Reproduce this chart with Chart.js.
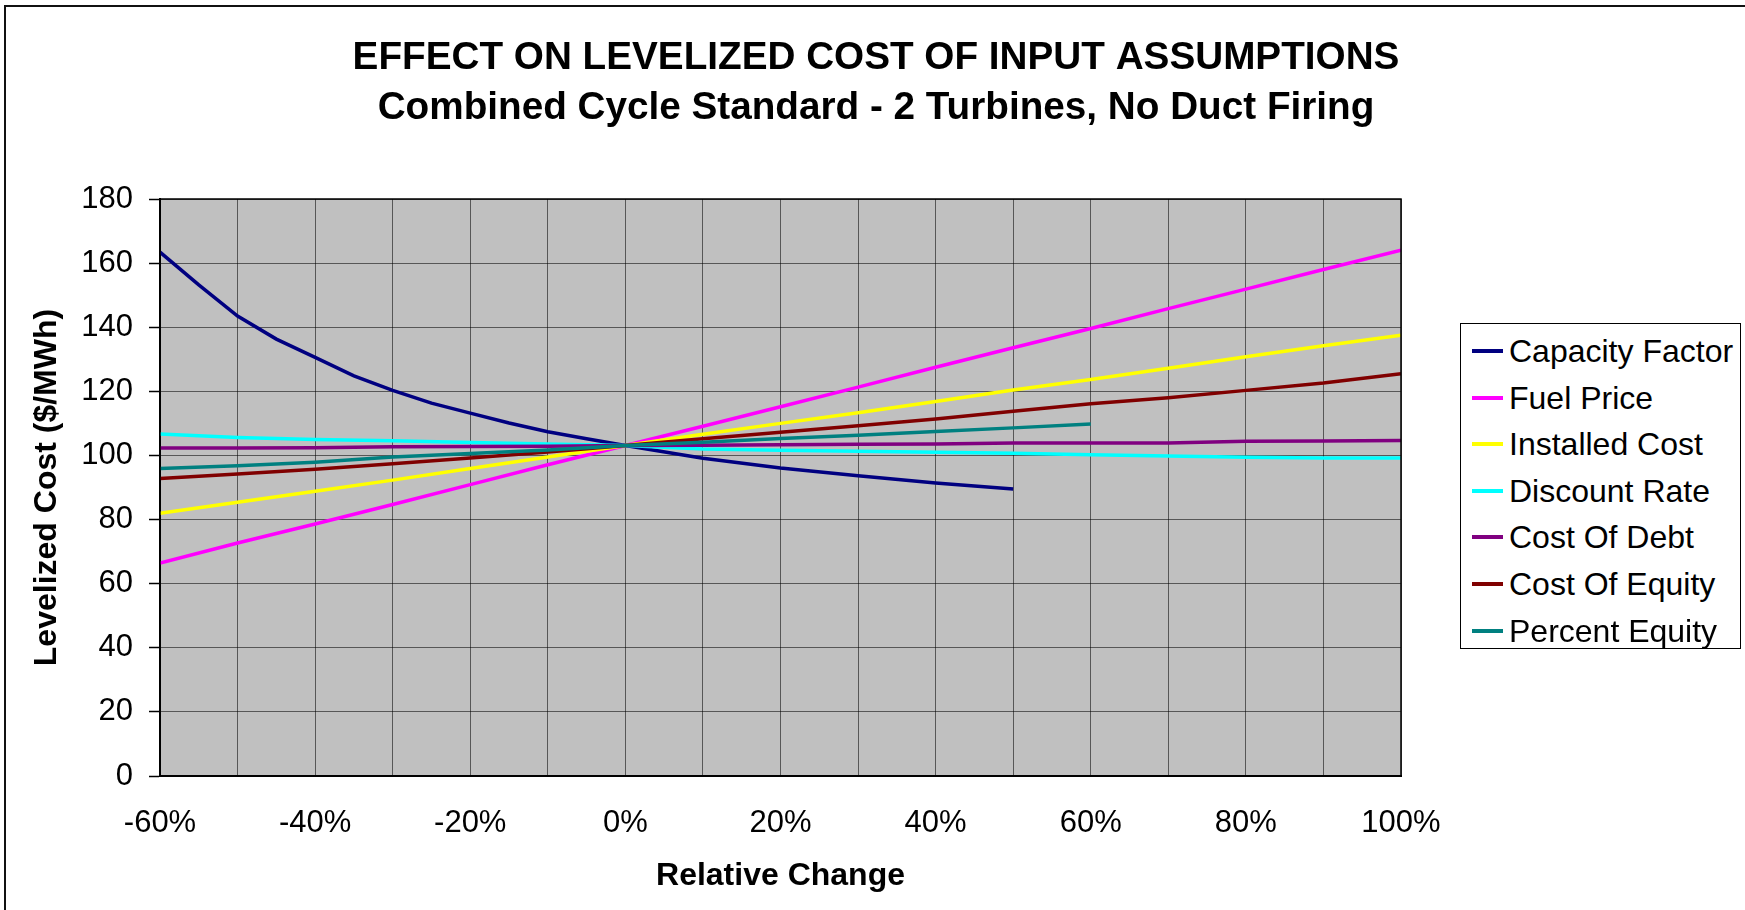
<!DOCTYPE html>
<html>
<head>
<meta charset="utf-8">
<script src="https://cdn.jsdelivr.net/npm/chart.js@4.4.1/dist/chart.umd.min.js"></script>
<style>
  body { margin: 0; background: #fff; font-family: 'Liberation Sans', Arial, sans-serif; }
  #frame { position: absolute; left: 4px; top: 5px; width: 1745px; height: 910px;
           border-left: 2px solid #111; border-top: 2px solid #111; }
  #wrap { position: absolute; left: 0; top: 0; width: 1745px; height: 910px; }
  #legend { position: absolute; left: 1460px; top: 323px; width: 279px; height: 324px;
            border: 1.5px solid #000; background: #fff; }
  .item { position: absolute; left: 0; height: 40px; width: 279px; }
  .item span.sw { position: absolute; left: 11px; top: 18px; width: 31px; height: 4px; }
  .item span.lb { position: absolute; left: 48px; top: 0; line-height: 40px; font-size: 32px; color: #000; white-space: nowrap; }
</style>
</head>
<body>
<div id="frame"></div>
<div id="wrap"><canvas id="chart" width="1745" height="910"></canvas></div>
<div id="legend"></div>
<script>
// relative change (%) used by most series
const relChange = [-60, -50, -40, -30, -20, -10, 0, 10, 20, 30, 40, 50, 60, 70, 80, 90, 100];
const capacityX = [-60, -55, -50, -45, -40, -35, -30, -25, -20, -15, -10, -5, 0, 10, 20, 30, 40, 50];
const equityPctX = [-60, -50, -40, -30, -20, -10, 0, 10, 20, 30, 40, 50, 60];

// levelized cost, $/MWh
const capacityFactor = [163.4, 153.2, 143.5, 136.3, 130.6, 124.8, 120.3, 116.3, 113.2, 110.1, 107.4, 105.2, 103.1, 99.1, 96.1, 93.7, 91.4, 89.5];
const fuelPrice = [66.4, 72.7, 78.6, 84.7, 90.9, 97.1, 103.1, 109.1, 115.2, 121.3, 127.5, 133.6, 139.6, 145.8, 151.9, 158.0, 164.0];
const installedCost = [82.0, 85.4, 88.8, 92.3, 95.9, 99.5, 103.1, 106.6, 110.0, 113.3, 116.8, 120.4, 123.7, 127.2, 130.8, 134.2, 137.5];
const discountRate = [106.7, 105.6, 105.0, 104.6, 104.0, 103.6, 103.1, 102.0, 101.6, 101.3, 101.0, 100.7, 100.2, 99.8, 99.4, 99.2, 99.2];
const costOfDebt = [102.3, 102.3, 102.4, 102.7, 102.8, 102.9, 103.1, 103.2, 103.3, 103.5, 103.6, 103.9, 103.9, 103.9, 104.4, 104.5, 104.7];
const costOfEquity = [92.8, 94.2, 95.7, 97.4, 99.2, 101.1, 103.1, 105.2, 107.2, 109.3, 111.4, 113.8, 116.1, 118.0, 120.3, 122.6, 125.5];
const percentEquity = [95.9, 96.8, 97.9, 99.5, 100.6, 101.7, 103.1, 104.1, 105.3, 106.3, 107.5, 108.6, 109.8];

const yTicks = [0, 20, 40, 60, 80, 100, 120, 140, 160, 180];

const seriesNames = ['Capacity Factor', 'Fuel Price', 'Installed Cost', 'Discount Rate', 'Cost Of Debt', 'Cost Of Equity', 'Percent Equity'];
const seriesColors = ['#000080', '#FF00FF', '#FFFF00', '#00FFFF', '#800080', '#800000', '#008080'];
const seriesX = [capacityX, relChange, relChange, relChange, relChange, relChange, equityPctX];
const seriesY = [capacityFactor, fuelPrice, installedCost, discountRate, costOfDebt, costOfEquity, percentEquity];

const FONT = "'Liberation Sans', Arial, sans-serif";

const datasets = seriesNames.map((name, i) => ({
  label: name,
  data: seriesX[i].map((x, j) => ({ x: x, y: seriesY[i][j] })),
  borderColor: seriesColors[i],
  borderWidth: 3.5,
  pointRadius: 0,
  tension: 0,
  fill: false,
  order: seriesNames.length - i  // later series on top, as in the original
}));

// grey plot background + frame around the plot area
const plotBox = {
  id: 'plotBox',
  beforeDraw(chart) {
    const a = chart.chartArea, ctx = chart.ctx;
    ctx.save();
    ctx.fillStyle = '#C0C0C0';
    ctx.fillRect(a.left, a.top, a.right - a.left, a.bottom - a.top);
    ctx.restore();
  },
  afterDraw(chart) {
    const a = chart.chartArea, ctx = chart.ctx;
    ctx.save();
    ctx.strokeStyle = '#000';
    ctx.lineWidth = 1.5;
    ctx.strokeRect(a.left, a.top, a.right - a.left, a.bottom - a.top);
    ctx.restore();
  }
};

new Chart(document.getElementById('chart'), {
  type: 'line',
  data: { datasets: datasets },
  plugins: [plotBox],
  options: {
    responsive: false,
    animation: false,
    layout: { padding: { left: 7, right: 0, top: 0, bottom: 0 } },
    plugins: {
      legend: { display: false },
      tooltip: { enabled: false },
      title: {
        display: true,
        text: ['EFFECT ON LEVELIZED COST OF INPUT ASSUMPTIONS', 'Combined Cycle Standard - 2 Turbines, No Duct Firing'],
        color: '#000',
        font: { family: FONT, size: 38.7, weight: 'bold', lineHeight: 50 / 38.7 },
        padding: { top: 33, bottom: 66 }
      }
    },
    scales: {
      x: {
        type: 'linear',
        min: -60, max: 100,
        afterFit(scale) { scale.height = 134; },
        ticks: {
          stepSize: 10,
          autoSkip: false,
          maxRotation: 0,
          padding: 29,
          color: '#000',
          font: { family: FONT, size: 31 },
          callback: v => (v % 20 === 0 ? v + '%' : '')
        },
        grid: { color: 'rgba(0,0,0,0.55)', lineWidth: 1, drawTicks: false },
        border: { color: '#000', width: 2 },
        title: {
          display: true,
          text: 'Relative Change',
          color: '#000',
          font: { family: FONT, size: 32, weight: 'bold' },
          padding: { top: 0, bottom: 15 }
        }
      },
      y: {
        min: 0, max: 180,
        afterFit(scale) { scale.width = 153; },
        afterBuildTicks(scale) { scale.ticks = yTicks.map(v => ({ value: v })); },
        ticks: {
          padding: 16,
          color: '#000',
          font: { family: FONT, size: 31 }
        },
        grid: { color: 'rgba(0,0,0,0.55)', lineWidth: 1, tickLength: 11, tickColor: '#000', tickWidth: 1.5 },
        border: { color: '#000', width: 2 },
        title: {
          display: true,
          text: 'Levelized Cost ($/MWh)',
          color: '#000',
          font: { family: FONT, size: 32, weight: 'bold' },
          padding: { top: 21, bottom: 0 }
        }
      },
      // empty axis that reserves the room on the right where the legend sits
      yRight: {
        position: 'right',
        min: 0, max: 180,
        afterFit(scale) { scale.width = 344; },
        ticks: { display: false },
        grid: { display: false },
        border: { display: false }
      }
    }
  }
});

// legend box
const legend = document.getElementById('legend');
seriesNames.forEach((name, i) => {
  const item = document.createElement('div');
  item.className = 'item';
  item.style.top = (7 + i * 46.6) + 'px';
  item.innerHTML = '<span class="sw" style="background:' + seriesColors[i] + '"></span><span class="lb">' + name + '</span>';
  legend.appendChild(item);
});
</script>
</body>
</html>
